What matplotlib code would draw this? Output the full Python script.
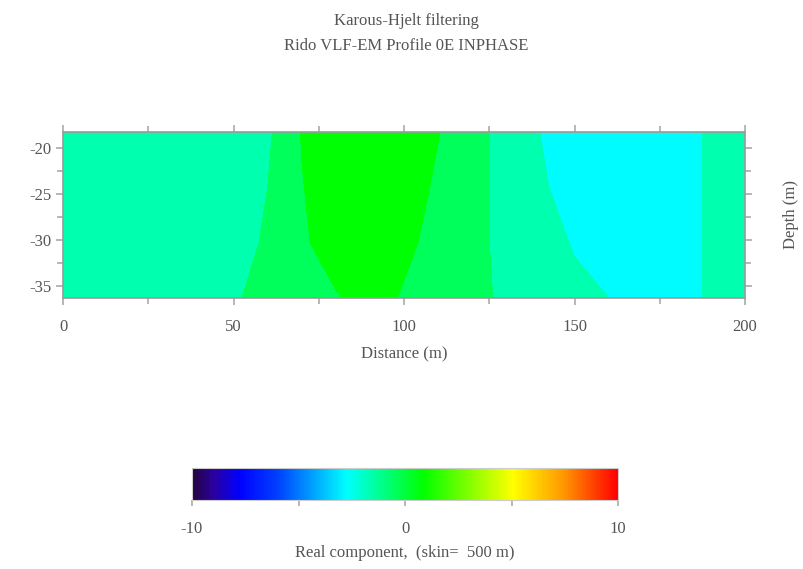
import numpy as np
import matplotlib
matplotlib.use("Agg")
import matplotlib.pyplot as plt
from matplotlib.colors import LinearSegmentedColormap, Normalize
from matplotlib.ticker import MultipleLocator

# ---- data ----
distance = [0, 10, 20, 30, 40, 50, 60, 70, 80, 90, 100, 110, 120, 130, 140, 150, 160, 170, 180, 190, 200]
depth = [-18.3, -24.3, -30.3, -36.3]
row_top = [-1.6, -1.6, -1.6, -1.6, -1.6, -1.5, -1.2, 0.25, 0.8, 0.9, 0.8, 0.24, -0.4, -1.6, -2.22, -2.8, -2.8, -2.8, -2.8, -2.0, -1.6]
row_24 = [-1.6, -1.6, -1.6, -1.6, -1.6, -1.6, -1.0, 0.15, 0.8, 0.9, 0.8, 0.0, -0.4, -1.6, -2.0, -2.8, -2.8, -2.8, -2.8, -2.0, -1.6]
row_30 = [-1.6, -1.6, -1.6, -1.6, -1.6, -1.6, -0.8, 0.0, 0.8, 0.8, 0.4, -0.1, -0.4, -1.6, -1.7, -2.3, -2.8, -2.8, -2.8, -2.0, -1.6]
row_bot = [-1.6, -1.6, -1.6, -1.6, -1.6, -1.2, -0.4, -0.1, 0.1, 0.6, 0.1, -0.3, -0.4, -1.4, -1.6, -1.9, -2.2, -2.8, -2.8, -2.0, -1.6]
levels = [-3.4, -2.2, -1.0, 0.2, 1.4]
cbar_ticks = [-10, 0, 10]

title = "Karous-Hjelt filtering\nRido VLF-EM Profile 0E INPHASE"
xlabel = "Distance (m)"
ylabel = "Depth (m)"
cbar_label = "Real component,  (skin=  500 m)"

# ---- colormap ----
cmap = LinearSegmentedColormap.from_list("vlf", [
    (0.0, "#24043f"), (0.05, "#2a00a0"), (0.11, "#0000ff"), (0.2, "#0040ff"),
    (0.363, "#00ffff"), (0.543, "#00ff00"), (0.754, "#ffff00"),
    (0.87, "#ff9a00"), (1.0, "#ff0000")])
norm = Normalize(vmin=-10, vmax=10)

plt.rcParams["font.family"] = ["Liberation Serif", "DejaVu Serif"]
plt.rcParams["axes.unicode_minus"] = False
txt_color = "#555555"

fig = plt.figure(figsize=(8.04, 5.69), dpi=100)
ax = fig.add_axes([0.0784, 0.4763, 0.8483, 0.2917])

X, Y = np.meshgrid(distance, depth)
Z = np.array([row_top, row_24, row_30, row_bot])
ax.contourf(X, Y, Z, levels=levels, cmap=cmap, norm=norm)
ax.set_xlim(0, 200)
ax.set_ylim(-36.3, -18.3)

ax.xaxis.set_major_locator(MultipleLocator(50))
ax.xaxis.set_minor_locator(MultipleLocator(25))
ax.yaxis.set_major_locator(MultipleLocator(5))
ax.yaxis.set_minor_locator(MultipleLocator(2.5))
ax.tick_params(which="both", direction="out", top=True, right=True, colors="#aaaaaa",
               labelcolor=txt_color, labelsize=12, length=5, width=1.2)
ax.tick_params(which="minor", length=4)
ax.tick_params(axis="x", pad=10)
for s in ax.spines.values():
    s.set_color("#9a9a9a")
    s.set_linewidth(1.2)

ax.set_xlabel(xlabel, fontsize=12, color=txt_color, labelpad=8)
ax.yaxis.set_label_position("right")
ax.set_ylabel(ylabel, fontsize=12, color=txt_color, labelpad=22)

fig.text(0.5057, 0.942, title, ha="center", va="center", fontsize=12,
         color=txt_color, linespacing=1.75)

cax = fig.add_axes([0.2388, 0.1213, 0.53, 0.0562])
cb = fig.colorbar(plt.cm.ScalarMappable(norm=norm, cmap=cmap), cax=cax, orientation="horizontal")
cb.set_ticks(cbar_ticks)
cb.ax.xaxis.set_minor_locator(MultipleLocator(5))
cb.ax.tick_params(which="both", colors="#aaaaaa", labelcolor=txt_color, labelsize=12,
                  length=4, width=1.2, pad=11)
cb.outline.set_edgecolor("#cccccc")
cb.set_label(cbar_label, fontsize=12, color=txt_color, labelpad=6)

fig.savefig("out.png", dpi=100, facecolor="white")
